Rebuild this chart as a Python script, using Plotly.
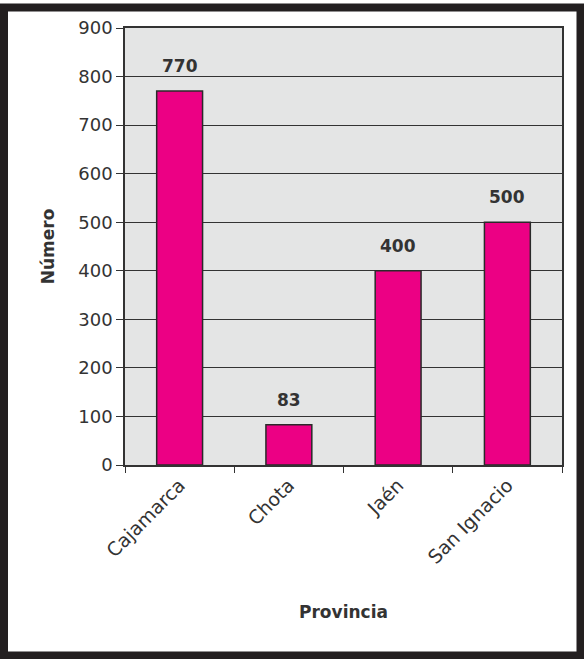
import plotly.graph_objects as go

provincias = ["Cajamarca", "Chota", "Jaén", "San Ignacio"]
numeros = [770, 83, 400, 500]
y_ticks = [0, 100, 200, 300, 400, 500, 600, 700, 800, 900]

FONT = "DejaVu Sans, Arial, sans-serif"
TXT = "#333333"

fig = go.Figure()
fig.add_trace(go.Bar(
    x=provincias, y=numeros,
    marker=dict(color="#EC0084", line=dict(color="#2a2a2a", width=1.5)),
    width=0.42,
))

for p, n in zip(provincias, numeros):
    fig.add_annotation(x=p, y=n, text=f"<b>{n}</b>", showarrow=False,
                       yanchor="middle", yshift=25,
                       font=dict(family=FONT, size=17, color=TXT))

# outer frame
fig.add_shape(type="rect", xref="paper", yref="paper",
              x0=(4 - 125) / 437, x1=(580.5 - 125) / 437,
              y0=(465 - 655.5) / 437, y1=(465 - 7.5) / 437,
              line=dict(color="#231f20", width=8), fillcolor="rgba(0,0,0,0)")

fig.update_layout(
    width=584, height=659,
    margin=dict(l=125, r=22, t=28, b=194),
    paper_bgcolor="white", plot_bgcolor="#e4e5e5",
    showlegend=False, bargap=0.58,
    font=dict(family=FONT, color=TXT),
    xaxis=dict(
        tickangle=-45, tickfont=dict(size=19, color=TXT),
        tickson="boundaries", ticks="outside", ticklen=6, tickcolor="#333",
        showline=True, linecolor="#333", linewidth=1.5, mirror=True,
        title=dict(text="<b>Provincia</b>", font=dict(size=17, color=TXT), standoff=39),
        showgrid=False,
    ),
    yaxis=dict(
        range=[0, 900], tickvals=y_ticks, tickfont=dict(size=18, color=TXT),
        ticks="outside", ticklen=7, tickcolor="#333",
        showline=True, linecolor="#333", linewidth=1.5, mirror=True,
        gridcolor="#333333", gridwidth=1.3, zeroline=False,
        title=dict(text="<b>Número</b>", font=dict(size=17, color=TXT), standoff=19),
    ),
)

fig.write_html("out.html")
